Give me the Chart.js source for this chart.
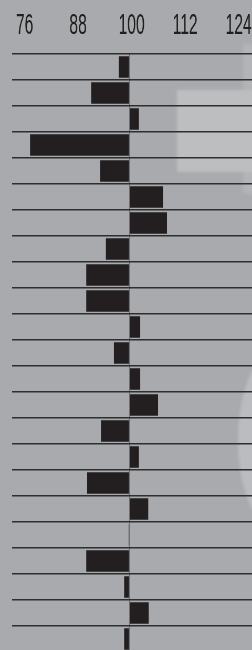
<!DOCTYPE html>
<html>
<head>
<meta charset="utf-8">
<script src="https://cdn.jsdelivr.net/npm/chart.js@4"></script>
<style>
  html, body { margin: 0; padding: 0; background: #a9aaad; overflow: hidden; }
  .wrap { position: relative; width: 252px; height: 650px; overflow: hidden; }
  /* faint watermark shapes behind the chart */
  .wm { position: absolute; filter: blur(1.5px); }
  .wm1 { left: 243px; top: 44px; width: 20px; height: 150px; background: #b3b4b7; }
  .wm2 { left: 177px; top: 90px; width: 90px; height: 82px; background: #bdbec0; }
  .wm3 { left: 238px; top: 345px; width: 90px; height: 190px; background: #bbbcbf; border-radius: 50%; }
  canvas { position: absolute; left: 0; top: 0; z-index: 1; }
</style>
</head>
<body>
<div class="wrap">
  <div class="wm wm1"></div>
  <div class="wm wm2"></div>
  <div class="wm wm3"></div>
  <!-- drawn 480 wide, shown 252 wide: squeezes the tick font like the condensed original -->
  <canvas id="chart" width="480" height="660" style="width:252px;height:660px"></canvas>
</div>
<script>
const categories = ['1','2','3','4','5','6','7','8','9','10','11','12','13','14','15','16','17','18','19','20','21','22','23'];
const values = [97.6, 91.4, 102.1, 77.7, 93.4, 107.5, 108.4, 94.7, 90.3, 90.3, 102.4, 96.5, 102.4, 106.4, 93.6, 102.1, 90.5, 104.2, 99.8, 90.3, 98.8, 104.3, 98.8];
const tickValues = [76, 88, 100, 112, 124];
const baseValue = 100;

const squeeze = 252 / 480; // css px per canvas px horizontally

const ctx = document.getElementById('chart').getContext('2d');
new Chart(ctx, {
    type: 'bar',
    data: {
        labels: categories,
        datasets: [{
            data: values,
            base: baseValue,
            backgroundColor: '#231f20',
            borderWidth: 0,
            barPercentage: 0.82,
            categoryPercentage: 1
        }]
    },
    options: {
        indexAxis: 'y',
        responsive: false,
        animation: false,
        layout: { padding: { top: 0, left: 0, right: 0, bottom: 8 } },
        scales: {
            x: {
                position: 'top',
                min: 73.65,
                max: 127.47,
                afterBuildTicks: (scale) => { scale.ticks = tickValues.map(v => ({ value: v })); },
                afterFit: (scale) => {
                    scale.height = 54;
                    scale.paddingLeft = 0; // keep the plot edge-to-edge, labels may overhang
                    scale.paddingRight = 0;
                },
                border: { display: false },
                grid: {
                    drawTicks: false,
                    color: (c) => (c.tick && c.tick.value === baseValue) ? '#6e6f72' : 'rgba(0,0,0,0)',
                    lineWidth: 1 / squeeze
                },
                ticks: {
                    autoSkip: false,
                    maxRotation: 0,
                    padding: 10,
                    labelOffset: 4,
                    color: '#1f1f1f',
                    font: { family: "'Liberation Sans', Arial, sans-serif", size: 30 },
                    callback: (v) => String(v)
                }
            },
            y: {
                afterFit: (scale) => { scale.width = 12 / squeeze; },
                border: { display: false },
                grid: { drawTicks: false, color: '#2e2e2e', lineWidth: 1.5 },
                ticks: { display: false }
            }
        },
        plugins: {
            legend: { display: false },
            tooltip: { enabled: false }
        }
    }
});
</script>
</body>
</html>
